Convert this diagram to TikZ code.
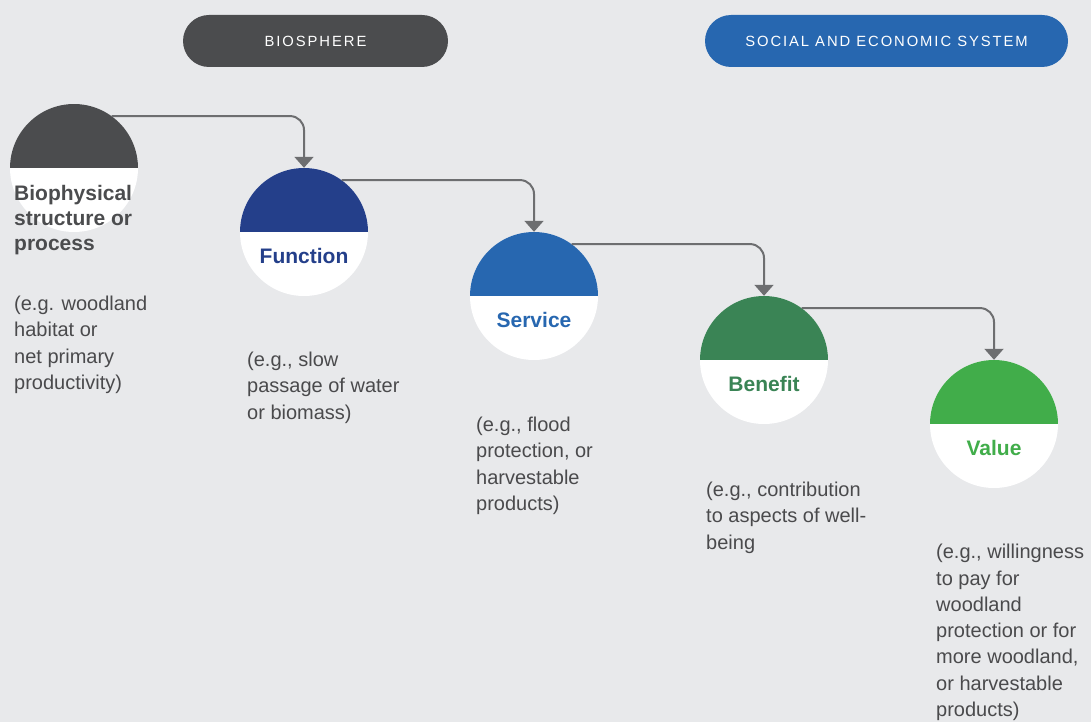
\documentclass[tikz,border=0pt]{standalone}
\usepackage{fontspec}
\setmainfont{Liberation Sans}
\newfontfamily\pillfont[LetterSpace=13]{Liberation Sans}
\usetikzlibrary{calc,arrows.meta}

\definecolor{bggrey}{HTML}{E8E9EB}
\definecolor{slate}{HTML}{4B4C4E}
\definecolor{navy}{HTML}{243F8A}
\definecolor{midblue}{HTML}{2767B0}
\definecolor{forest}{HTML}{3A8455}
\definecolor{leaf}{HTML}{41AD4A}
\definecolor{wire}{HTML}{6D6E70}
\definecolor{ink}{HTML}{4A4A4C}

\tikzset{
	stage/.style={circle, minimum size=128pt, inner sep=0pt, fill=white,
		path picture={\fill[#1] (path picture bounding box.west) rectangle (path picture bounding box.north east);}},
	stagename/.style={text=#1, inner sep=0pt, font=\fontsize{21}{25.2}\selectfont\bfseries},
	example/.style={anchor=north west, inner sep=0pt, align=left, text=ink, font=\fontsize{20}{26.3}\selectfont},
	pill/.style={fill=#1, rounded corners=26pt, minimum height=52pt, text=white, font=\pillfont\fontsize{14.8}{16}\selectfont},
	link/.style={draw=wire, line width=2pt, rounded corners=14pt, -{Triangle[width=19pt,length=11pt]}}
}

\begin{document}
\begin{tikzpicture}[x=1pt, y=-1pt]
		%%%%% START %%%%%
		
		\fill[bggrey] (0, 0) rectangle (1091, 722);
		\useasboundingbox (0, 0) rectangle (1091, 722);
		
		\node[pill=slate, minimum width=265pt] (biosph) at (315.5, 41) {BIOSPHERE};
		\node[pill=midblue, minimum width=363pt] (socsys) at (886.5, 41) {SOCIAL AND ECONOMIC SYSTEM};
		
		\node[stage=slate] (bio) at (74, 168) {};
		\node[stage=navy] (fun) at (304, 232) {};
		\node[stage=midblue] (ser) at (534, 296) {};
		\node[stage=forest] (ben) at (764, 360) {};
		\node[stage=leaf] (val) at (994, 424) {};
		
		\draw[link] (bio.54) -| (fun.north);
		\draw[link] (fun.54) -| (ser.north);
		\draw[link] (ser.54) -| (ben.north);
		\draw[link] (ben.54) -| (val.north);
		
		\node[stagename=slate, anchor=north west, align=left] (biotxt) at (14, 185) {Biophysical\\structure or\\process};
		\node[stagename=navy] (funtxt) at ($(fun)+(0, 24)$) {Function};
		\node[stagename=midblue] (sertxt) at ($(ser)+(0, 24)$) {Service};
		\node[stagename=forest] (bentxt) at ($(ben)+(0, 24)$) {Benefit};
		\node[stagename=leaf] (valtxt) at ($(val)+(0, 24)$) {Value};
		
		\node[example] (bioeg) at (14, 296) {(e.g. woodland\\habitat or\\net primary\\productivity)};
		\node[example] (funeg) at (247, 352) {(e.g., slow\\passage of water\\or biomass)};
		\node[example] (sereg) at (476, 417) {(e.g., flood\\protection, or\\harvestable\\products)};
		\node[example] (beneg) at (706, 482) {(e.g., contribution\\to aspects of well-\\being};
		\node[example] (valeg) at (936, 544) {(e.g., willingness\\to pay for\\woodland\\protection or for\\more woodland,\\or harvestable\\products)};
		
		%%%%% END %%%%%
	\end{tikzpicture}
\end{document}
